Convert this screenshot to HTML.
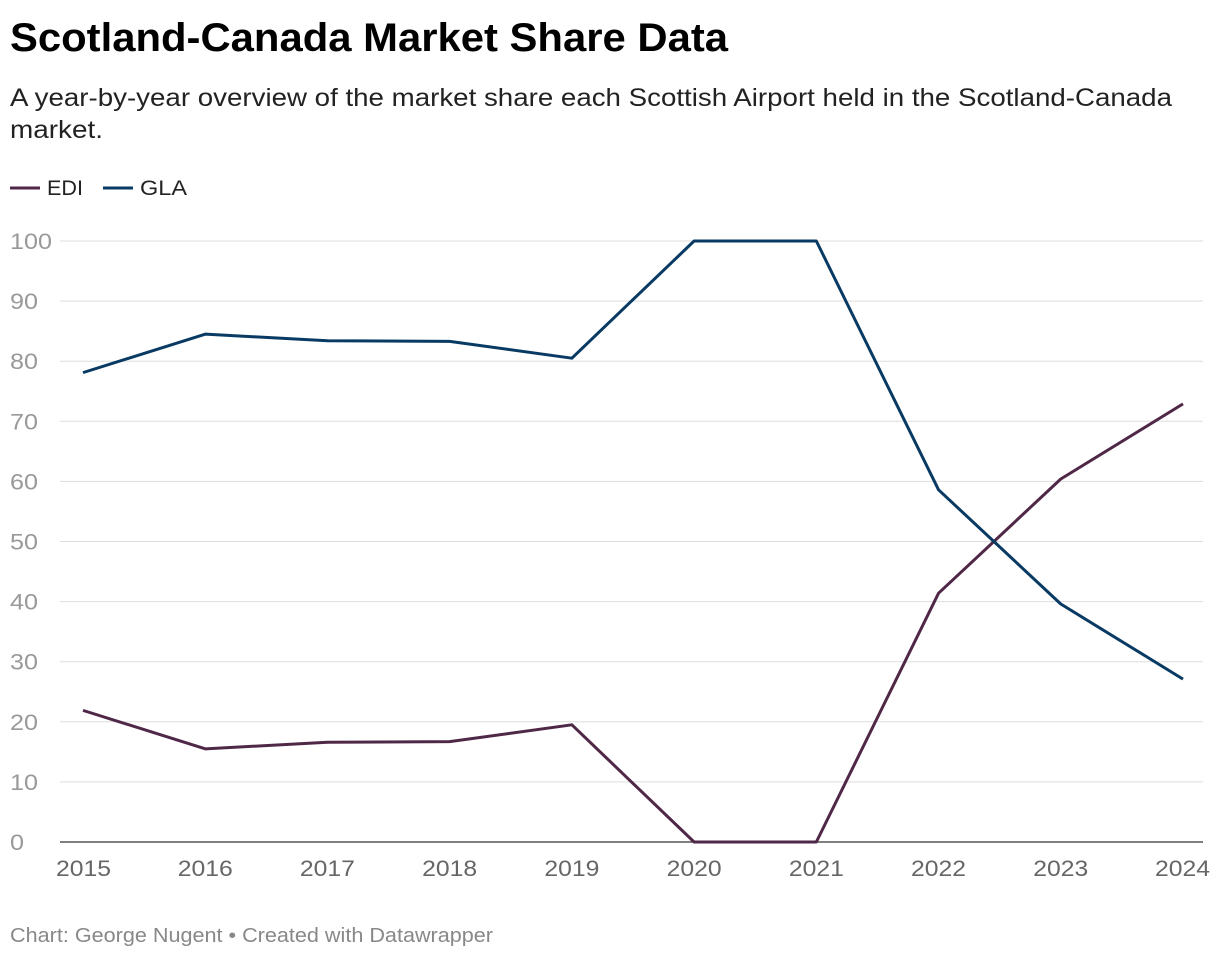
<!DOCTYPE html>
<html><head><meta charset="utf-8"><style>
body{margin:0;background:#fff;width:1220px;height:958px;overflow:hidden;font-family:"Liberation Sans",sans-serif;}
</style></head><body>
<svg width="1220" height="958">
<text x="10" y="51" font-size="40" font-weight="bold" fill="#000" textLength="718" lengthAdjust="spacingAndGlyphs">Scotland-Canada Market Share Data</text>
<text x="10" y="106" font-size="25" fill="#222" textLength="1162" lengthAdjust="spacingAndGlyphs">A year-by-year overview of the market share each Scottish Airport held in the Scotland-Canada</text>
<text x="10" y="138" font-size="25" fill="#222" textLength="93" lengthAdjust="spacingAndGlyphs">market.</text>
<g>
<line x1="10" y1="188" x2="40" y2="188" stroke="#4f2747" stroke-width="3"/>
<text x="47" y="195" font-size="21" fill="#222" textLength="36" lengthAdjust="spacingAndGlyphs">EDI</text>
<line x1="103" y1="188" x2="133" y2="188" stroke="#083a63" stroke-width="3"/>
<text x="140" y="195" font-size="21" fill="#222" textLength="47" lengthAdjust="spacingAndGlyphs">GLA</text>
</g>
<g id="grid"></g><g id="lines"></g>
<text x="10" y="942" font-size="20" fill="#888" textLength="483" lengthAdjust="spacingAndGlyphs">Chart: George Nugent • Created with Datawrapper</text>
</svg>
<script>
const years=["2015","2016","2017","2018","2019","2020","2021","2022","2023","2024"];
const edi=[21.9,15.5,16.6,16.7,19.5,0,0,41.4,60.4,72.9];
const gla=[78.1,84.5,83.4,83.3,80.5,100,100,58.6,39.6,27.1];
const yTicks=[0,10,20,30,40,50,60,70,80,90,100];
const NS="http://www.w3.org/2000/svg";
function x(i){return 83+i*(1183-83)/(years.length-1);}
function y(v){return 842-v*(842-241)/100;}
const g=document.getElementById('grid');
yTicks.forEach(t=>{
 const l=document.createElementNS(NS,'line');
 l.setAttribute('x1',60);l.setAttribute('x2',1203);l.setAttribute('y1',y(t));l.setAttribute('y2',y(t));
 l.setAttribute('stroke',t===0?'#333':'#ddd');l.setAttribute('stroke-width',t===0?1.3:1);
 
 
 g.appendChild(l);
 const tx=document.createElementNS(NS,'text');
 tx.setAttribute('x',10);tx.setAttribute('y',y(t)+8);tx.setAttribute('font-size','22');tx.setAttribute('fill','#999');
 tx.setAttribute('textLength',String(t).length*14);tx.setAttribute('lengthAdjust','spacingAndGlyphs');
 tx.textContent=t;
 
 
 g.appendChild(tx);
});
years.forEach((yr,i)=>{
 const tx=document.createElementNS(NS,'text');
 tx.setAttribute('x',x(i));tx.setAttribute('y',876);tx.setAttribute('font-size','22');tx.setAttribute('fill','#666');
 tx.setAttribute('textLength',55);tx.setAttribute('lengthAdjust','spacingAndGlyphs');
 tx.setAttribute('text-anchor',i===0?'start':(i===years.length-1?'end':'middle'));
 if(i===0)tx.setAttribute('x',x(i)-27);
 if(i===years.length-1)tx.setAttribute('x',x(i)+27);
 tx.textContent=yr;
 
 
 g.appendChild(tx);
});
const L=document.getElementById('lines');
function drawLine(vals,color,name){
 const p=document.createElementNS(NS,'polyline');
 p.setAttribute('points',vals.map((v,i)=>x(i)+','+y(v)).join(' '));
 p.setAttribute('fill','none');p.setAttribute('stroke',color);p.setAttribute('stroke-width',3);
 p.setAttribute('stroke-linejoin','round');
 
 
 L.appendChild(p);
}
drawLine(edi,'#4f2747','edi-line');
drawLine(gla,'#083a63','gla-line');
</script>
</body></html>
